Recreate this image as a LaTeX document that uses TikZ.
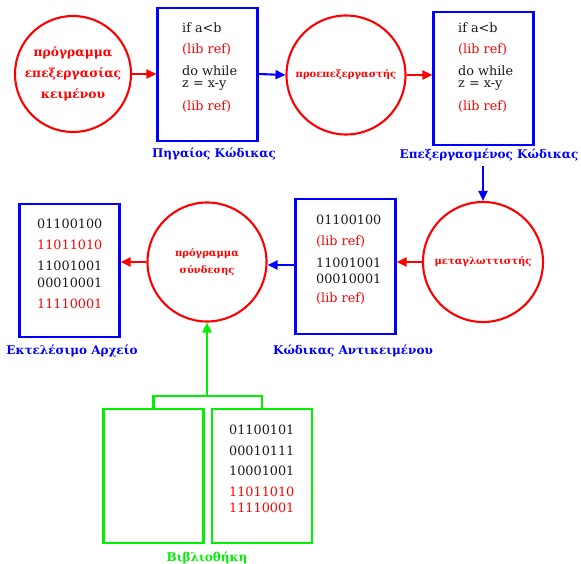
\documentclass[tikz,border=0pt]{standalone}
\usepackage{fontspec}
\setmainfont{DejaVu Serif}
\usetikzlibrary{arrows.meta}
\definecolor{rd}{RGB}{255,0,0}
\definecolor{bl}{RGB}{0,0,255}
\definecolor{gr}{RGB}{0,240,0}
\tikzset{
  proc/.style={circle,draw=rd,line width=2.1pt,minimum size=#1,inner sep=0pt,text=rd,font=\bfseries\fontsize{10}{17}\selectfont,align=center},
  codebox/.style={draw=bl,line width=2.1pt,minimum width=100pt,minimum height=#1,inner sep=0pt},
  libbox/.style={draw=gr,line width=2.1pt,minimum width=100pt,minimum height=134pt,inner sep=0pt},
  ln/.style={anchor=west,inner sep=0pt,font=\fontsize{12.8}{14}\selectfont,text=black!90},
  lr/.style={ln,text=rd},
  captxt/.style={inner sep=0pt,font=\bfseries\fontsize{12}{14}\selectfont,text=bl},
  arr/.style={line width=2.1pt,-{Triangle[length=10pt,width=9pt]}},
}
\begin{document}
\begin{tikzpicture}[x=1pt,y=-1pt]
\useasboundingbox (0,0) rectangle (581,564);
% top row
\node[proc=116pt,font=\bfseries\fontsize{12.3}{21}\selectfont] (c1) at (73,74) {πρόγραμμα\\επεξεργασίας\\κειμένου};
\node[codebox=133pt] (b1) at (207.5,74.5) {};
\node[ln] (b1a) at (182,28) {if a<b};
\node[lr] (b1b) at (182,50) {(lib ref)};
\node[ln] (b1c) at (182,71) {do while};
\node[ln] (b1d) at (182,86) {z = x-y};
\node[lr] (b1e) at (182,107) {(lib ref)};
\node[captxt] (l1) at (214,154) {Πηγαίος Κώδικας};
\node[proc=119pt] (c2) at (346,75) {προεπεξεργαστής};
\node[codebox=133pt] (b2) at (483.5,78.5) {};
\node[ln] (b2a) at (458,28) {if a<b};
\node[lr] (b2b) at (458,50) {(lib ref)};
\node[ln] (b2c) at (458,71) {do while};
\node[ln] (b2d) at (458,86) {z = x-y};
\node[lr] (b2e) at (458,107) {(lib ref)};
\node[captxt] (l2) at (489,155) {Επεξεργασμένος Κώδικας};
% middle row
\node[proc=120pt] (c3) at (483,262) {μεταγλωττιστής};
\node[codebox=135pt] (b3) at (345.5,266.5) {};
\node[ln] (b3a) at (316,220) {01100100};
\node[lr] (b3b) at (316,242) {(lib ref)};
\node[ln] (b3c) at (316,263) {11001001};
\node[ln] (b3d) at (316,279) {00010001};
\node[lr] (b3e) at (316,299) {(lib ref)};
\node[captxt] (l3) at (353,351) {Κώδικας Αντικειμένου};
\node[proc=119pt] (c4) at (207,262) {πρόγραμμα\\σύνδεσης};
\node[codebox=133pt] (b4) at (69.5,270.5) {};
\node[ln] (b4a) at (37,224) {01100100};
\node[lr] (b4b) at (37,245) {11011010};
\node[ln] (b4c) at (37,266) {11001001};
\node[ln] (b4d) at (37,283) {00010001};
\node[lr] (b4e) at (37,304) {11110001};
\node[captxt] (l4) at (72,351) {Εκτελέσιμο Αρχείο};
% library
\node[libbox] (g1) at (153.5,476) {};
\node[libbox] (g2) at (262,476) {};
\node[ln] (g2a) at (229,430) {01100101};
\node[ln] (g2b) at (229,451) {00010111};
\node[ln] (g2c) at (229,471) {10001001};
\node[lr] (g2d) at (229,492) {11011010};
\node[lr] (g2e) at (229,508) {11110001};
\node[captxt,text=gr] (l5) at (207,558) {Βιβλιοθήκη};
\coordinate (j) at (207,396);
% connectors
\draw[arr,rd] (c1.east) -- (c1.east -| b1.west);
\draw[arr,bl] (b1.east |- c1.east) -- (c2.west);
\draw[arr,rd] (c2.east) -- (c2.east -| b2.west);
\draw[arr,bl] (l2.south -| c3.north) ++(0,5) -- (c3.north);
\draw[arr,rd] (c3.west) -- (c3.west -| b3.east);
\draw[arr,bl] (b3.west |- 0,265) -- (c4.east |- 0,265);
\draw[arr,rd] (c4.west) -- (c4.west -| b4.east);
\draw[gr,line width=2.1pt] (g1.north) -- (g1.north |- j) -- (g2.north |- j) -- (g2.north);
\draw[arr,gr] (j) -- (c4.south);
\end{tikzpicture}
\end{document}
